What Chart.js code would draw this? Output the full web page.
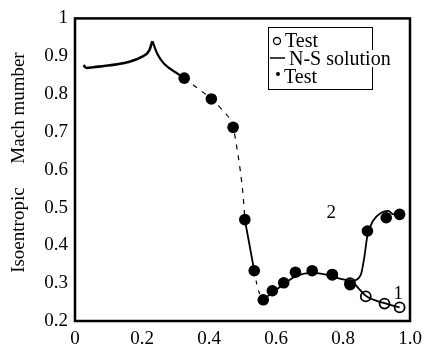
<!DOCTYPE html>
<html>
<head>
<meta charset="utf-8">
<script src="https://cdn.jsdelivr.net/npm/chart.js@4"></script>
<style>
  html, body { margin: 0; padding: 0; background: #fff; }
  #wrap { width: 430px; height: 352px; }
</style>
</head>
<body>
<div id="wrap"><canvas id="chart" width="430" height="352"></canvas></div>
<script>
// N-S solution, upper surface part (solid, split at the peak so it stays sharp)
const nsRiseX = [0.025, 0.035, 0.055, 0.105, 0.156, 0.196, 0.221, 0.231];
const nsRiseY = [0.876, 0.869, 0.871, 0.876, 0.884, 0.897, 0.914, 0.940];
const nsFallX = [0.231, 0.246, 0.266, 0.306, 0.326];
const nsFallY = [0.940, 0.906, 0.880, 0.854, 0.842];
// dashed part down to the shock
const nsDash1X = [0.326, 0.365, 0.407, 0.440, 0.472, 0.481, 0.493, 0.502, 0.507];
const nsDash1Y = [0.842, 0.816, 0.787, 0.757, 0.712, 0.670, 0.600, 0.530, 0.468];
const nsShockX = [0.507, 0.535];
const nsShockY = [0.468, 0.333];
const nsDash2X = [0.535, 0.546, 0.562];
const nsDash2Y = [0.333, 0.285, 0.256];
// lower solid curve and the two branches
const nsLowX = [0.562, 0.592, 0.627, 0.663, 0.708, 0.753, 0.790, 0.828];
const nsLowY = [0.256, 0.277, 0.300, 0.320, 0.327, 0.322, 0.312, 0.305];
const curve1X = [0.828, 0.868, 0.924, 0.969];
const curve1Y = [0.305, 0.267, 0.247, 0.236];
const curve2X = [0.828, 0.853, 0.863, 0.873, 0.889, 0.914, 0.935, 0.950, 0.962, 0.975];
const curve2Y = [0.305, 0.322, 0.365, 0.426, 0.464, 0.486, 0.491, 0.482, 0.490, 0.487];
// test points
const filledX = [0.326, 0.407, 0.472, 0.507, 0.535, 0.562, 0.589, 0.623, 0.658, 0.708, 0.768, 0.821, 0.873, 0.929, 0.969];
const filledY = [0.842, 0.787, 0.712, 0.468, 0.333, 0.256, 0.280, 0.301, 0.329, 0.333, 0.323, 0.296, 0.438, 0.473, 0.482];
const openX = [0.768, 0.821, 0.868, 0.924, 0.969];
const openY = [0.322, 0.300, 0.265, 0.246, 0.236];
// curve labels
const curveLabels = ["2", "1"];
const curveLabelX = [0.765, 0.965];
const curveLabelY = [0.485, 0.272];

const FONT = "'Liberation Serif', 'Times New Roman', serif";

function pts(xs, ys) {
  return xs.map((x, i) => ({ x: x, y: ys[i] }));
}

function lineSet(xs, ys, width, dash) {
  return {
    data: pts(xs, ys),
    showLine: true,
    borderColor: "#000",
    borderWidth: width,
    borderDash: dash || [],
    pointRadius: 0,
    cubicInterpolationMode: "monotone",
    fill: false,
  };
}

const frame = {
  id: "frame",
  afterDraw(chart) {
    const ctx = chart.ctx;
    const a = chart.chartArea;
    const xs = chart.scales.x;
    const ys = chart.scales.y;
    ctx.save();
    ctx.strokeStyle = "#000";
    ctx.lineWidth = 2.5;
    ctx.strokeRect(a.left, a.top, a.right - a.left, a.bottom - a.top);

    // curve labels
    ctx.fillStyle = "#000";
    ctx.font = "19px " + FONT;
    ctx.textAlign = "center";
    ctx.textBaseline = "middle";
    curveLabels.forEach((t, i) => {
      ctx.fillText(t, xs.getPixelForValue(curveLabelX[i]), ys.getPixelForValue(curveLabelY[i]));
    });

    // legend
    ctx.lineWidth = 1;
    ctx.strokeRect(268.5, 27.5, 104, 62);
    ctx.textAlign = "left";
    ctx.textBaseline = "alphabetic";
    ctx.font = "20px " + FONT;
    ctx.beginPath();
    ctx.lineWidth = 1.3;
    ctx.arc(277, 41, 3.5, 0, Math.PI * 2);
    ctx.stroke();
    ctx.fillText("Test", 285, 47);
    ctx.lineWidth = 1.5;
    ctx.beginPath();
    ctx.moveTo(270, 58);
    ctx.lineTo(285, 58);
    ctx.stroke();
    ctx.fillStyle = "#fff";
    ctx.fillRect(288, 50, 108, 17);
    ctx.fillStyle = "#000";
    ctx.fillText("N-S solution", 289, 65);
    ctx.beginPath();
    ctx.arc(278, 74, 2, 0, Math.PI * 2);
    ctx.fill();
    ctx.fillText("Test", 284, 83);
    ctx.restore();
  },
};

new Chart(document.getElementById("chart"), {
  type: "scatter",
  data: {
    datasets: [
      lineSet(nsRiseX, nsRiseY, 2.6),
      lineSet(nsFallX, nsFallY, 2.2),
      lineSet(nsDash1X, nsDash1Y, 1.2, [5, 6]),
      lineSet(nsShockX, nsShockY, 1.8),
      lineSet(nsDash2X, nsDash2Y, 1.2, [4, 6]),
      lineSet(nsLowX, nsLowY, 1.8),
      lineSet(curve1X, curve1Y, 1.8),
      lineSet(curve2X, curve2Y, 1.8),
      {
        data: pts(openX, openY),
        pointRadius: 5,
        pointBorderWidth: 1.8,
        pointBorderColor: "#000",
        pointBackgroundColor: "rgba(0,0,0,0)",
      },
      {
        data: pts(filledX, filledY),
        pointRadius: 5.8,
        pointBorderWidth: 0,
        pointBackgroundColor: "#000",
      },
    ],
  },
  options: {
    responsive: false,
    animation: false,
    layout: { padding: { top: 10, right: 20, left: 0, bottom: 0 } },
    plugins: { legend: { display: false }, tooltip: { enabled: false } },
    scales: {
      x: {
        type: "linear",
        min: 0,
        max: 1,
        grid: { display: false, drawTicks: false },
        border: { display: false },
        ticks: {
          stepSize: 0.2,
          padding: 7,
          color: "#000",
          font: { family: FONT, size: 19 },
          maxRotation: 0,
          callback: (v) => (v === 0 ? "0" : v.toFixed(1)),
        },
        afterFit: (s) => { s.height = 31; },
      },
      y: {
        min: 0.2,
        max: 1,
        grid: { display: false, drawTicks: false },
        border: { display: false },
        ticks: {
          stepSize: 0.1,
          padding: 7,
          color: "#000",
          font: { family: FONT, size: 19 },
          callback: (v) => (Math.abs(v - 1) < 1e-9 ? "1" : v.toFixed(1)),
        },
        title: {
          display: true,
          text: "   Isoentropic     Mach mumber",
          color: "#000",
          font: { family: FONT, size: 19 },
          padding: { top: 8, bottom: 0 },
        },
        afterFit: (s) => { s.width = 75; },
      },
    },
  },
  plugins: [frame],
});
</script>
</body>
</html>
